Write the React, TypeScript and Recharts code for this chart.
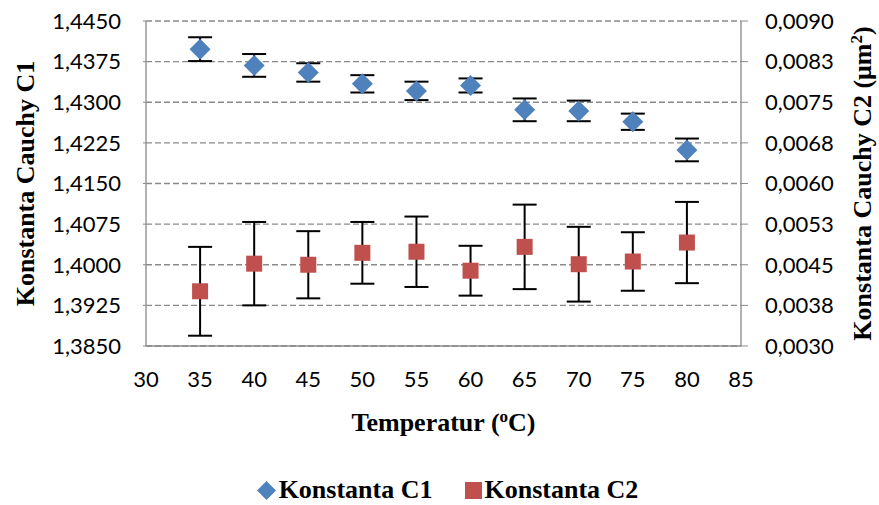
import React from 'react'
import {
  ScatterChart,
  Scatter,
  XAxis,
  YAxis,
  CartesianGrid,
  ErrorBar,
  Legend,
  Label,
} from 'recharts'

const temperatures = [35, 40, 45, 50, 55, 60, 65, 70, 75, 80]
const c1Values = [1.4398, 1.4368, 1.4355, 1.4334, 1.4321, 1.4331, 1.4286, 1.4284, 1.4264, 1.4212]
const c1Errors = [0.0022, 0.0021, 0.0017, 0.0016, 0.0017, 0.0013, 0.0021, 0.0019, 0.0015, 0.0021]
const c2Values = [0.00401, 0.00452, 0.0045, 0.00472, 0.00474, 0.00439, 0.00483, 0.00451, 0.00456, 0.00491]
const c2Errors = [0.00082, 0.00077, 0.00062, 0.00057, 0.00065, 0.00046, 0.00078, 0.00069, 0.00054, 0.00075]

const xTicks = [30, 35, 40, 45, 50, 55, 60, 65, 70, 75, 80, 85]
const leftTicks = [1.385, 1.3925, 1.4, 1.4075, 1.415, 1.4225, 1.43, 1.4375, 1.445]
const leftTickLabels = ['1,3850', '1,3925', '1,4000', '1,4075', '1,4150', '1,4225', '1,4300', '1,4375', '1,4450']
const rightTicks = [0.003, 0.00375, 0.0045, 0.00525, 0.006, 0.00675, 0.0075, 0.00825, 0.009]
const rightTickLabels = ['0,0030', '0,0038', '0,0045', '0,0053', '0,0060', '0,0068', '0,0075', '0,0083', '0,0090']

const c1Data = temperatures.map((t, i) => ({ t, v: c1Values[i], err: c1Errors[i] }))
const c2Data = temperatures.map((t, i) => ({ t, v: c2Values[i], err: c2Errors[i] }))

const BLUE = '#4F81BD'
const RED = '#C0504D'
const GRID = '#8a8a8a'
const TICK_FONT = { fontFamily: 'Lato, "Open Sans", sans-serif', fontSize: 22, fill: '#000' }
const TITLE_FONT = '"Liberation Serif", "Times New Roman", serif'

const labelFor = (ticks: number[], labels: string[]) => (v: number) => {
  const i = ticks.findIndex((t) => Math.abs(t - v) < 1e-9)
  return i >= 0 ? labels[i] : String(v)
}

const Diamond = (props: any) => {
  const { cx, cy } = props
  const r = 10.5
  return (
    <polygon
      points={`${cx},${cy - r} ${cx + r},${cy} ${cx},${cy + r} ${cx - r},${cy}`}
      fill={BLUE}
    />
  )
}

const Square = (props: any) => {
  const { cx, cy } = props
  const h = 8
  return <rect x={cx - h} y={cy - h} width={h * 2} height={h * 2} fill={RED} />
}

const renderLegend = () => (
  <div
    style={{
      display: 'flex',
      justifyContent: 'center',
      alignItems: 'center',
      height: 30,
      paddingLeft: 16,
      fontFamily: TITLE_FONT,
      fontWeight: 'bold',
      fontSize: 26,
      color: '#000',
    }}
  >
    <svg width={19} height={19} style={{ marginRight: 3 }}>
      <polygon points="9.5,0 19,9.5 9.5,19 0,9.5" fill={BLUE} />
    </svg>
    <span>Konstanta C1</span>
    <svg width={17} height={17} style={{ marginLeft: 32, marginRight: 3 }}>
      <rect x={0} y={0} width={17} height={17} fill={RED} />
    </svg>
    <span>Konstanta C2</span>
  </div>
)

export default function App() {
  return (
    <div style={{ position: 'absolute', left: 0, top: 0, background: '#fff' }}>
      <ScatterChart width={879} height={505} margin={{ top: 21, right: 0, bottom: 0, left: 0 }}>
        <CartesianGrid
          yAxisId="left"
          vertical={false}
          stroke={GRID}
          strokeWidth={1.3}
          strokeDasharray="6 3"
        />
        <XAxis
          type="number"
          dataKey="t"
          domain={[30, 85]}
          ticks={xTicks}
          allowDataOverflow
          height={129}
          tickLine={false}
          tickSize={0}
          tickMargin={25}
          axisLine={{ stroke: GRID, strokeWidth: 1.3 }}
          tick={TICK_FONT}
        >
          <Label
            content={(p: any) => {
              const vb = p.viewBox
              return (
                <text
                  x={vb.x + vb.width / 2}
                  y={vb.y + 85}
                  textAnchor="middle"
                  fontFamily={TITLE_FONT}
                  fontWeight="bold"
                  fontSize={26}
                  fill="#000"
                >
                  Temperatur (<tspan fontSize={17} dy={-9}>o</tspan>
                  <tspan dy={9}>C)</tspan>
                </text>
              )
            }}
          />
        </XAxis>
        <YAxis
          yAxisId="left"
          type="number"
          dataKey="v"
          domain={[1.385, 1.445]}
          ticks={leftTicks}
          allowDataOverflow
          width={146}
          tickSize={3}
          tickMargin={22}
          tickLine={{ stroke: GRID }}
          axisLine={{ stroke: GRID, strokeWidth: 1.3 }}
          tick={TICK_FONT}
          tickFormatter={labelFor(leftTicks, leftTickLabels)}
        >
          <Label
            content={(p: any) => {
              const vb = p.viewBox
              const cy = vb.y + vb.height / 2
              return (
                <text
                  x={34}
                  y={cy}
                  transform={`rotate(-90, 34, ${cy})`}
                  textAnchor="middle"
                  fontFamily={TITLE_FONT}
                  fontWeight="bold"
                  fontSize={26}
                  fill="#000"
                >
                  Konstanta Cauchy C1
                </text>
              )
            }}
          />
        </YAxis>
        <YAxis
          yAxisId="right"
          orientation="right"
          type="number"
          dataKey="v"
          domain={[0.003, 0.009]}
          ticks={rightTicks}
          allowDataOverflow
          width={138}
          tickSize={7}
          tickMargin={17}
          tickLine={{ stroke: GRID }}
          axisLine={{ stroke: GRID, strokeWidth: 1.3 }}
          tick={TICK_FONT}
          tickFormatter={labelFor(rightTicks, rightTickLabels)}
        >
          <Label
            content={(p: any) => {
              const vb = p.viewBox
              const cy = vb.y + vb.height / 2
              return (
                <text
                  x={871}
                  y={cy}
                  transform={`rotate(-90, 871, ${cy})`}
                  textAnchor="middle"
                  fontFamily={TITLE_FONT}
                  fontWeight="bold"
                  fontSize={26}
                  fill="#000"
                >
                  Konstanta Cauchy C2 (μm<tspan fontSize={17} dy={-9}>2</tspan>
                  <tspan dy={9}>)</tspan>
                </text>
              )
            }}
          />
        </YAxis>
        <Legend verticalAlign="bottom" content={renderLegend} />
        <Scatter
          name="Konstanta C1"
          yAxisId="left"
          data={c1Data}
          shape={<Diamond />}
          isAnimationActive={false}
        >
          <ErrorBar dataKey="err" direction="y" width={12} stroke="#000" strokeWidth={2} />
        </Scatter>
        <Scatter
          name="Konstanta C2"
          yAxisId="right"
          data={c2Data}
          shape={<Square />}
          isAnimationActive={false}
        >
          <ErrorBar dataKey="err" direction="y" width={12} stroke="#000" strokeWidth={2} />
        </Scatter>
      </ScatterChart>
    </div>
  )
}
